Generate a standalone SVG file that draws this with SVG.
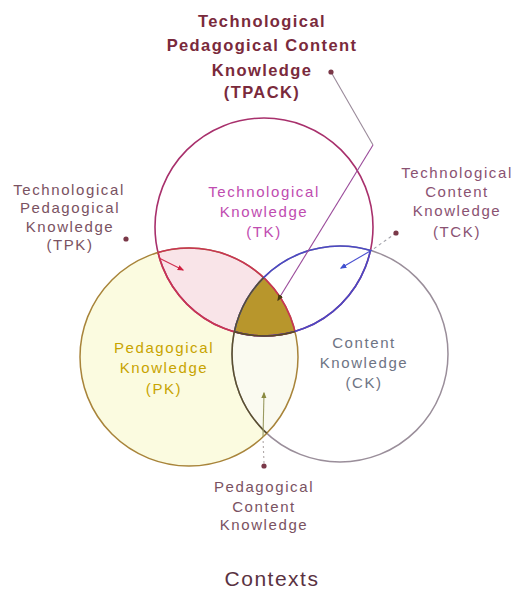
<svg xmlns="http://www.w3.org/2000/svg" width="518" height="590" viewBox="0 0 518 590">
<style>
.lbl{font-family:"Liberation Sans",Arial,sans-serif;font-size:15px;text-anchor:middle;letter-spacing:1.6px}
.ttl{font-family:"Liberation Sans",Arial,sans-serif;font-size:16.5px;font-weight:bold;text-anchor:middle;fill:#7a2a3c;letter-spacing:1.4px}
.dot{fill:#7a3848}
.conn{fill:none;stroke-width:1.1}
</style>
<defs>
<clipPath id="cTK"><circle cx="264" cy="227" r="109"/></clipPath>
<clipPath id="cPK"><circle cx="189" cy="357" r="109"/></clipPath>
<clipPath id="cCK"><circle cx="340" cy="354" r="108"/></clipPath>
<marker id="aRed" viewBox="0 0 10 10" refX="8" refY="5" markerWidth="6" markerHeight="6" orient="auto"><path d="M0,1 L10,5 L0,9 z" fill="#d02040"/></marker>
<marker id="aBlue" viewBox="0 0 10 10" refX="8" refY="5" markerWidth="6" markerHeight="6" orient="auto"><path d="M0,1 L10,5 L0,9 z" fill="#4050d0"/></marker>
<marker id="aDark" viewBox="0 0 10 10" refX="8" refY="5" markerWidth="6" markerHeight="6" orient="auto"><path d="M0,1 L10,5 L0,9 z" fill="#4a3a10"/></marker>
<marker id="aOl" viewBox="0 0 10 10" refX="8" refY="5" markerWidth="6" markerHeight="6" orient="auto"><path d="M0,1 L10,5 L0,9 z" fill="#8a8a40"/></marker>
</defs>
<rect width="518" height="590" fill="#ffffff"/>

<g id="PK">
<circle cx="189" cy="357" r="109" fill="#fbfbe0"/>
</g>
<g id="TPK-region" clip-path="url(#cPK)">
<rect x="0" y="0" width="518" height="590" fill="#f9e4e8" clip-path="url(#cTK)"/>
</g>
<g id="PCK-region" clip-path="url(#cPK)">
<rect x="0" y="0" width="518" height="590" fill="#fafaf0" clip-path="url(#cCK)"/>
</g>
<g id="TPACK-region" clip-path="url(#cPK)">
<g clip-path="url(#cCK)">
<rect x="0" y="0" width="518" height="590" fill="#b8962c" clip-path="url(#cTK)"/>
</g>
</g>

<g id="TK">
<circle cx="264" cy="227" r="109" fill="none" stroke="#a8306c" stroke-width="1.6"/>
</g>
<g id="CK">
<circle cx="340" cy="354" r="108" fill="none" stroke="#9a8e9a" stroke-width="1.5"/>
</g>
<g id="PK-outline">
<circle cx="189" cy="357" r="109" fill="none" stroke="#a8843a" stroke-width="1.5"/>
</g>
<g id="lens-outlines">
<circle cx="264" cy="227" r="109" fill="none" stroke="#c83454" stroke-width="1.6" clip-path="url(#cPK)"/>
<circle cx="189" cy="357" r="109" fill="none" stroke="#c83454" stroke-width="1.6" clip-path="url(#cTK)"/>
<circle cx="340" cy="354" r="108" fill="none" stroke="#4a48c4" stroke-width="1.6" clip-path="url(#cTK)"/>
<g clip-path="url(#cCK)"><circle cx="264" cy="227" r="109" fill="none" stroke="#4a48c4" stroke-width="1.6"/></g>
<g clip-path="url(#cCK)"><circle cx="264" cy="227" r="109" fill="none" stroke="#5a4a20" stroke-width="1.6" clip-path="url(#cPK)"/></g>
<circle cx="340" cy="354" r="108" fill="none" stroke="#5a5030" stroke-width="1.5" clip-path="url(#cPK)"/>
</g>

<g id="connectors">
<polyline class="conn" points="331,72 373,145" stroke="#9a8a9a"/>
<line class="conn" x1="373" y1="145" x2="278" y2="300" stroke="#9a4a9a" marker-end="url(#aDark)"/>
<circle class="dot" cx="331" cy="72" r="2.6"/>
<line class="conn" x1="159" y1="258" x2="183" y2="270" stroke="#d03050" marker-end="url(#aRed)"/>
<circle class="dot" cx="126" cy="239" r="2.6"/>
<line class="conn" x1="396" y1="233" x2="372" y2="250" stroke="#a0a0a8" stroke-dasharray="3,3"/>
<line class="conn" x1="372" y1="250" x2="341" y2="268" stroke="#4a50d0" marker-end="url(#aBlue)"/>
<circle class="dot" cx="396" cy="233" r="2.6"/>
<line class="conn" x1="264" y1="463" x2="263" y2="438" stroke="#b0a8a8" stroke-dasharray="2,3"/>
<line class="conn" x1="263" y1="437" x2="264" y2="393" stroke="#9a9a60" marker-end="url(#aOl)"/>
<circle class="dot" cx="264" cy="466" r="2.6"/>
</g>

<g id="TPACK-label">
<text class="ttl" x="262" y="27">Technological</text>
<text class="ttl" x="262" y="51">Pedagogical Content</text>
<text class="ttl" x="262" y="76">Knowledge</text>
<text class="ttl" x="262" y="98">(TPACK)</text>
</g>
<g id="TPK-label" class="lbl" fill="#7a5262">
<text x="69" y="195">Technological</text>
<text x="70" y="213">Pedagogical</text>
<text x="70" y="232">Knowledge</text>
<text x="70" y="250">(TPK)</text>
</g>
<g id="TK-label" class="lbl" fill="#c04cb0">
<text x="264" y="197">Technological</text>
<text x="264" y="217">Knowledge</text>
<text x="264" y="237">(TK)</text>
</g>
<g id="TCK-label" class="lbl" fill="#8a5272">
<text x="457" y="178">Technological</text>
<text x="457" y="197">Content</text>
<text x="457" y="216">Knowledge</text>
<text x="457" y="237">(TCK)</text>
</g>
<g id="PK-label" class="lbl" fill="#c8a400">
<text x="164" y="353">Pedagogical</text>
<text x="164" y="373">Knowledge</text>
<text x="164" y="394">(PK)</text>
</g>
<g id="CK-label" class="lbl" fill="#6e7484">
<text x="364" y="348">Content</text>
<text x="364" y="368">Knowledge</text>
<text x="364" y="388">(CK)</text>
</g>
<g id="PCK-label" class="lbl" fill="#7a5262">
<text x="264" y="492">Pedagogical</text>
<text x="264" y="512">Content</text>
<text x="264" y="530">Knowledge</text>
</g>
<text x="272" y="586" font-family="Liberation Sans, Arial, sans-serif" font-size="21px" letter-spacing="1.5px" fill="#5a3242" text-anchor="middle">Contexts</text>
</svg>
